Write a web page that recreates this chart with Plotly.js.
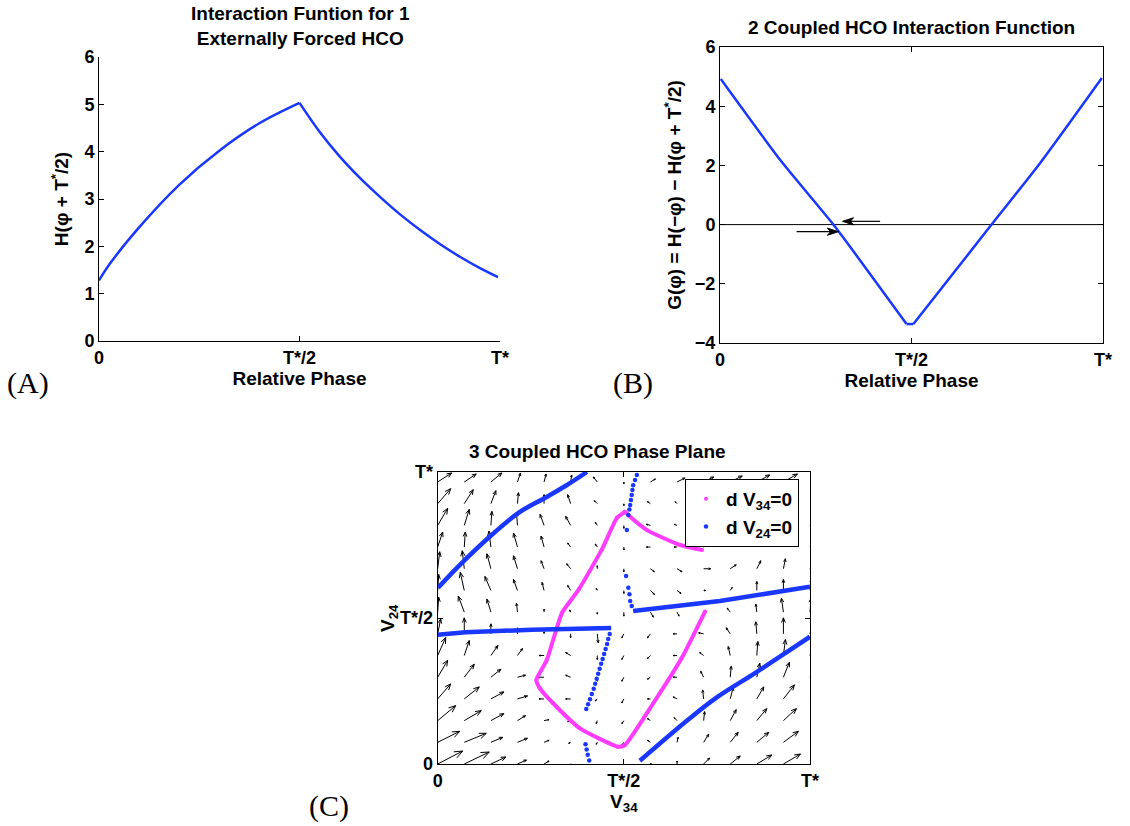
<!DOCTYPE html>
<html><head><meta charset="utf-8">
<script src="https://cdn.plot.ly/plotly-3.0.1.min.js"></script>
<style>body{margin:0;background:#fff}#chart{width:1130px;height:826px}</style>
</head><body><div id="chart"></div>
<script>
// ---------- shared tick labels ----------
const phaseTicks = [0, 0.5, 1];
const phaseTickText = ['0', 'T*/2', 'T*'];

// ---------- (A) Interaction function, 1 externally forced HCO ----------
const aPhase = [0, 0.027, 0.1, 0.2, 0.3, 0.4, 0.5, 0.55, 0.6, 0.65, 0.7, 0.75, 0.8, 0.85, 0.9, 0.95, 0.995];
const aH     = [1.28, 1.63, 2.4, 3.3, 4.02, 4.6, 5.03, 4.42, 3.9, 3.45, 3.05, 2.68, 2.35, 2.05, 1.78, 1.54, 1.35];

// ---------- (B) 2 coupled HCO interaction function ----------
const bPhase = [0.002, 0.161, 0.296, 0.487, 0.505, 0.709, 0.836, 0.997];
const bG     = [4.92, 2.12, 0, -3.36, -3.36, 0, 2.08, 4.95];
const bArrowTailX = [0.418, 0.200];
const bArrowHeadX = [0.320, 0.309];
const bArrowY     = [0.11, -0.24];

// ---------- (C) 3 coupled HCO phase plane ----------
// dV34 = 0 nullcline (magenta)
const mV34 = [0.718, 0.655, 0.579, 0.503, 0.485, 0.382, 0.31, 0.274, 0.265, 0.293, 0.334, 0.379, 0.441, 0.482, 0.5, 0.503, 0.514, 0.562, 0.651, 0.71];
const mV24 = [0.522, 0.362, 0.208, 0.065, 0.059, 0.122, 0.208, 0.26, 0.288, 0.356, 0.518, 0.598, 0.735, 0.844, 0.861, 0.864, 0.85, 0.801, 0.75, 0.733];
// dV24 = 0 nullcline (blue), continuous branches
const bl1V34 = [0.001, 0.065, 0.147, 0.218, 0.289, 0.343, 0.401];
const bl1V24 = [0.604, 0.689, 0.787, 0.861, 0.912, 0.952, 1.0];
const bl2V34 = [0.543, 0.669, 0.745, 0.848, 0.91, 1.0];
const bl2V24 = [0.011, 0.148, 0.224, 0.308, 0.36, 0.436];
const bl3V34 = [0, 0.075, 0.253, 0.466];
const bl3V24 = [0.443, 0.451, 0.46, 0.466];
const bl4V34 = [0.525, 0.758, 1.0];
const bl4V24 = [0.524, 0.558, 0.607];
// dV24 = 0 nullcline (blue), sparse dotted parts
const bdV34 = [0.462, 0.458, 0.455, 0.451, 0.447, 0.443, 0.439, 0.435, 0.431, 0.427, 0.423, 0.419, 0.414, 0.409, 0.404, 0.399,
               0.397, 0.400, 0.403, 0.407,
               0.535, 0.530, 0.525, 0.523, 0.521, 0.519, 0.517, 0.515, 0.512, 0.508,
               0.506, 0.512, 0.515, 0.517, 0.521];
const bdV24 = [0.445, 0.428, 0.411, 0.394, 0.377, 0.360, 0.343, 0.326, 0.309, 0.292, 0.275, 0.258, 0.240, 0.222, 0.205, 0.188,
               0.068, 0.050, 0.032, 0.012,
               0.990, 0.973, 0.955, 0.938, 0.921, 0.904, 0.887, 0.872, 0.853, 0.801,
               0.644, 0.604, 0.581, 0.558, 0.541];

// vector field grid and components (screen-pixel sized, +V is up)
const qx = [0, 0.0714, 0.1429, 0.2143, 0.2857, 0.3571, 0.4286, 0.5, 0.5714, 0.6429, 0.7143, 0.7857, 0.8571, 0.9286, 1.0];
const qy = [0, 0.0743, 0.1486, 0.2229, 0.2972, 0.3715, 0.4458, 0.5201, 0.5944, 0.6687, 0.743, 0.8173, 0.8916, 0.9659];
const qU = [
 [25,25,15,9,5,2,0,-1,1,0,6,10,15,17,18],
 [22,22,12,10,5,-2,-1,-2,-3,1,5,8,12,15,17],
 [18,17,13,8,5,-3,-1,-2,-3,-3,1,6,10,13,15],
 [13,15,13,10,-5,-5,-2,-2,-3,-4,-1,3,7,11,13],
 [10,10,10,8,-6,-5,0,-2,-3,-4,-3,1,3,6,9],
 [8,5,7,5,-5,-5,0,-2,-3,-4,-4,-2,1,2,5],
 [3,0,0,0,0,0,1,-2,-3,-4,-5,-4,-1,0,3],
 [1,-6,-4,-1,0,-1,0,0,3,2,1,-3,-1,-2,1],
 [1,-4,-6,-4,-2,-3,-1,0,4,4,2,2,0,0,2],
 [2,-2,-4,-4,-3,-4,0,0,4,5,7,6,4,2,4],
 [5,1,-2,-4,-3,-3,-2,0,-4,-3,-3,0,2,4,5],
 [10,5,1,-1,-4,-5,-2,0,-4,-3,-2,1,4,6,8],
 [13,9,5,1,0,-3,-3,0,-3,-2,2,5,8,10,11],
 [14,12,11,3,2,1,-4,0,5,8,10,12,13,14,14]
];
const qV = [
 [13,12,7,4,3,-1,-2,-2,0,3,6,8,9,10,10],
 [11,9,5,4,2,-1,-2,-3,2,5,8,10,10,11,11],
 [15,10,7,5,1,-1,-3,-3,2,3,9,11,12,12,12],
 [15,12,7,3,0,0,-2,-4,0,2,9,12,12,14,13],
 [17,13,8,2,0,2,-4,-4,-2,0,6,11,14,15,15],
 [18,15,10,7,0,3,-4,-4,-3,0,3,9,14,16,16],
 [15,16,10,6,2,-4,-9,-4,-4,0,1,6,12,16,16],
 [15,16,13,9,3,2,-2,-4,-5,-4,-2,4,8,14,14],
 [16,18,14,11,8,5,2,-3,-4,-3,0,3,9,11,12],
 [17,18,15,13,8,5,3,-3,-3,-3,0,4,8,10,10],
 [15,15,16,14,11,4,3,-3,0,0,2,5,7,8,9],
 [17,16,14,13,11,9,3,-3,1,1,2,4,6,8,9],
 [15,14,13,11,9,9,3,-2,2,2,3,5,6,8,9],
 [9,8,9,9,8,7,5,-2,3,4,5,6,7,8,8]
];

// ---------- layout geometry ----------
const W = 1130, H = 826;
const domAx = [99/W, 500/W],   domAy = [(H-341)/H, (H-57)/H];
const domBx = [720/W, 1103/W], domBy = [(H-343)/H, (H-47)/H];
const domCx = [437.7/W, 810/W], domCy = [(H-764)/H, (H-472)/H];

const FAM = 'Liberation Sans, Arial, Helvetica, sans-serif';
const tickFont = {family: FAM, size: 18, color: '#000', weight: 'bold'};
const titleFont = {family: FAM, size: 19, color: '#000', weight: 'bold'};
const serifFont = {family: 'Liberation Serif, DejaVu Serif, serif', size: 30, color: '#000'};
const BLUE = 'rgb(25,55,255)';
const MAG = 'rgb(255,60,255)';

// quiver (built from qx,qy,qU,qV)
function quiver() {
  const sx = (domCx[1]-domCx[0])*W, sy = (domCy[1]-domCy[0])*H;
  const X = [], Y = [];
  const a = 22*Math.PI/180;
  for (let j = 0; j < qy.length; j++) for (let i = 0; i < qx.length; i++) {
    const u = qU[j][i], v = qV[j][i];
    const L = Math.hypot(u, v);
    if (L < 0.5) continue;
    const x0 = qx[i], y0 = qy[j];
    const x1 = x0 + u/sx, y1 = y0 + v/sy;
    X.push(x0, x1, null); Y.push(y0, y1, null);
    const h = Math.max(1.5, 0.32*L);
    const bx = -u/L, by = -v/L;
    const p = [];
    for (const s of [1, -1]) {
      const rx = bx*Math.cos(s*a) - by*Math.sin(s*a);
      const ry = bx*Math.sin(s*a) + by*Math.cos(s*a);
      p.push([x1 + rx*h/sx, y1 + ry*h/sy]);
    }
    X.push(p[0][0], x1, p[1][0], null); Y.push(p[0][1], y1, p[1][1], null);
  }
  return {x: X, y: Y, xaxis: 'x3', yaxis: 'y3', mode: 'lines', line: {color: '#000', width: 1},
          showlegend: false, hoverinfo: 'skip'};
}

// B arrows (shaft + filled head) built from bArrow* arrays
function bArrows() {
  const sx = (domBx[1]-domBx[0])*W, sy = (domBy[1]-domBy[0])*H/10;
  const out = [];
  for (let k = 0; k < bArrowY.length; k++) {
    const x0 = bArrowTailX[k], x1 = bArrowHeadX[k], y = bArrowY[k];
    const dir = Math.sign(x1 - x0);
    const hl = 11/sx, hw = 3.6/sy;
    out.push({x: [x0, x1 - dir*hl*0.6], y: [y, y], xaxis: 'x2', yaxis: 'y2', mode: 'lines',
      line: {color: '#000', width: 1.2}, showlegend: false, hoverinfo: 'skip'});
    out.push({x: [x1, x1 - dir*hl, x1 - dir*hl*0.7, x1 - dir*hl, x1], y: [y, y + hw, y, y - hw, y],
      xaxis: 'x2', yaxis: 'y2', mode: 'lines', fill: 'toself', fillcolor: '#000',
      line: {color: '#000', width: 1}, showlegend: false, hoverinfo: 'skip'});
  }
  return out;
}

const iPeak = aPhase.indexOf(0.5);
const iB1 = 3, iB2 = 4;
const blueLine = {color: BLUE, width: 2.5, shape: 'spline', smoothing: 0.6};
const traces = [
  {x: aPhase.slice(0, iPeak+1), y: aH.slice(0, iPeak+1), xaxis: 'x', yaxis: 'y', mode: 'lines',
   line: {color: BLUE, width: 2.5, shape: 'spline', smoothing: 1}, showlegend: false},
  {x: aPhase.slice(iPeak), y: aH.slice(iPeak), xaxis: 'x', yaxis: 'y', mode: 'lines',
   line: {color: BLUE, width: 2.5, shape: 'spline', smoothing: 1}, showlegend: false},
  {x: [0, 1], y: [0, 0], xaxis: 'x2', yaxis: 'y2', mode: 'lines', line: {color: '#000', width: 1}, showlegend: false},
  {x: bPhase.slice(0, iB1+1), y: bG.slice(0, iB1+1), xaxis: 'x2', yaxis: 'y2', mode: 'lines', line: blueLine, showlegend: false},
  {x: bPhase.slice(iB1, iB2+1), y: bG.slice(iB1, iB2+1), xaxis: 'x2', yaxis: 'y2', mode: 'lines', line: {color: BLUE, width: 2.5}, showlegend: false},
  {x: bPhase.slice(iB2), y: bG.slice(iB2), xaxis: 'x2', yaxis: 'y2', mode: 'lines', line: blueLine, showlegend: false},
  ...bArrows(),
  quiver(),
  {x: mV34, y: mV24, xaxis: 'x3', yaxis: 'y3', mode: 'lines', line: {color: MAG, width: 4, shape: 'spline', smoothing: 0.5}, showlegend: false},
  {x: bl1V34, y: bl1V24, xaxis: 'x3', yaxis: 'y3', mode: 'lines', line: {color: BLUE, width: 4.5, shape: 'spline', smoothing: 1}, showlegend: false},
  {x: bl2V34, y: bl2V24, xaxis: 'x3', yaxis: 'y3', mode: 'lines', line: {color: BLUE, width: 4.5, shape: 'spline', smoothing: 1}, showlegend: false},
  {x: bl3V34, y: bl3V24, xaxis: 'x3', yaxis: 'y3', mode: 'lines', line: {color: BLUE, width: 4.5}, showlegend: false},
  {x: bl4V34, y: bl4V24, xaxis: 'x3', yaxis: 'y3', mode: 'lines', line: {color: BLUE, width: 4.5}, showlegend: false},
  {x: mV34, y: mV24, xaxis: 'x3', yaxis: 'y3', mode: 'markers', marker: {color: MAG, size: 4}, name: 'd V<sub>34</sub>=0'},
  {x: bdV34, y: bdV24, xaxis: 'x3', yaxis: 'y3', mode: 'markers', marker: {color: BLUE, size: 4.5}, name: 'd V<sub>24</sub>=0'}
];

function ax(dom, range, anchor, extra) {
  return Object.assign({domain: dom, range: range, anchor: anchor, showgrid: false, zeroline: false,
    showline: true, linecolor: '#000', linewidth: 1, ticks: 'inside', ticklen: 5, tickcolor: '#000',
    tickfont: tickFont, fixedrange: true}, extra);
}

const layout = {
  width: W, height: H, margin: {l: 0, r: 0, t: 0, b: 0},
  paper_bgcolor: '#fff', plot_bgcolor: 'rgba(0,0,0,0)',
  xaxis: ax(domAx, [0, 1], 'y', {tickvals: phaseTicks, ticktext: phaseTickText,
    title: {text: 'Relative Phase', font: titleFont, standoff: 2}}),
  yaxis: ax(domAy, [0, 6], 'x', {tick0: 0, dtick: 1,
    title: {text: 'H(φ + T<sup>*</sup>/2)', font: titleFont, standoff: 10}}),
  xaxis2: ax(domBx, [0, 1], 'y2', {tickvals: phaseTicks, ticktext: phaseTickText, mirror: 'ticks',
    title: {text: 'Relative Phase', font: titleFont, standoff: 2}}),
  yaxis2: ax(domBy, [-4, 6], 'x2', {tick0: -4, dtick: 2, mirror: 'ticks', tickformat: 'd',
    title: {text: 'G(φ) = H(−φ) − H(φ + T<sup>*</sup>/2)', font: titleFont, standoff: 8}}),
  xaxis3: ax(domCx, [0, 1], 'y3', {tickvals: phaseTicks, ticktext: phaseTickText, mirror: 'ticks',
    title: {text: 'V<sub>34</sub>', font: titleFont, standoff: 0}}),
  yaxis3: ax(domCy, [0, 1], 'x3', {tickvals: phaseTicks, ticktext: phaseTickText, mirror: 'ticks'}),
  showlegend: true,
  legend: {x: 685/W, y: (H-479)/H, xanchor: 'left', yanchor: 'top', bgcolor: '#fff',
    bordercolor: '#000', borderwidth: 1, font: {family: FAM, size: 19, color: '#000', weight: 'bold'},
    itemsizing: 'trace', tracegroupgap: 0},
  annotations: [
    {xref: 'paper', yref: 'paper', x: 300/W, y: (H-26)/H, xanchor: 'center', yanchor: 'middle', showarrow: false,
     text: 'Interaction Funtion for 1<br>Externally Forced HCO', font: titleFont},
    {xref: 'paper', yref: 'paper', x: 911/W, y: (H-27)/H, xanchor: 'center', yanchor: 'middle', showarrow: false,
     text: '2 Coupled HCO Interaction Function', font: titleFont},
    {xref: 'paper', yref: 'paper', x: 597/W, y: (H-452)/H, xanchor: 'center', yanchor: 'middle', showarrow: false,
     text: '3 Coupled HCO Phase Plane', font: titleFont},
    {xref: 'paper', yref: 'paper', x: 389/W, y: (H-618)/H, xanchor: 'center', yanchor: 'middle', showarrow: false,
     textangle: -90, text: 'V<sub>24</sub>', font: titleFont},
    {xref: 'paper', yref: 'paper', x: 28/W, y: (H-383)/H, xanchor: 'center', yanchor: 'middle', showarrow: false,
     text: '(A)', font: serifFont},
    {xref: 'paper', yref: 'paper', x: 633/W, y: (H-383)/H, xanchor: 'center', yanchor: 'middle', showarrow: false,
     text: '(B)', font: serifFont},
    {xref: 'paper', yref: 'paper', x: 329/W, y: (H-806)/H, xanchor: 'center', yanchor: 'middle', showarrow: false,
     text: '(C)', font: serifFont}
  ]
};

Plotly.newPlot('chart', traces, layout, {displayModeBar: false, staticPlot: true});
</script>
</body></html>
